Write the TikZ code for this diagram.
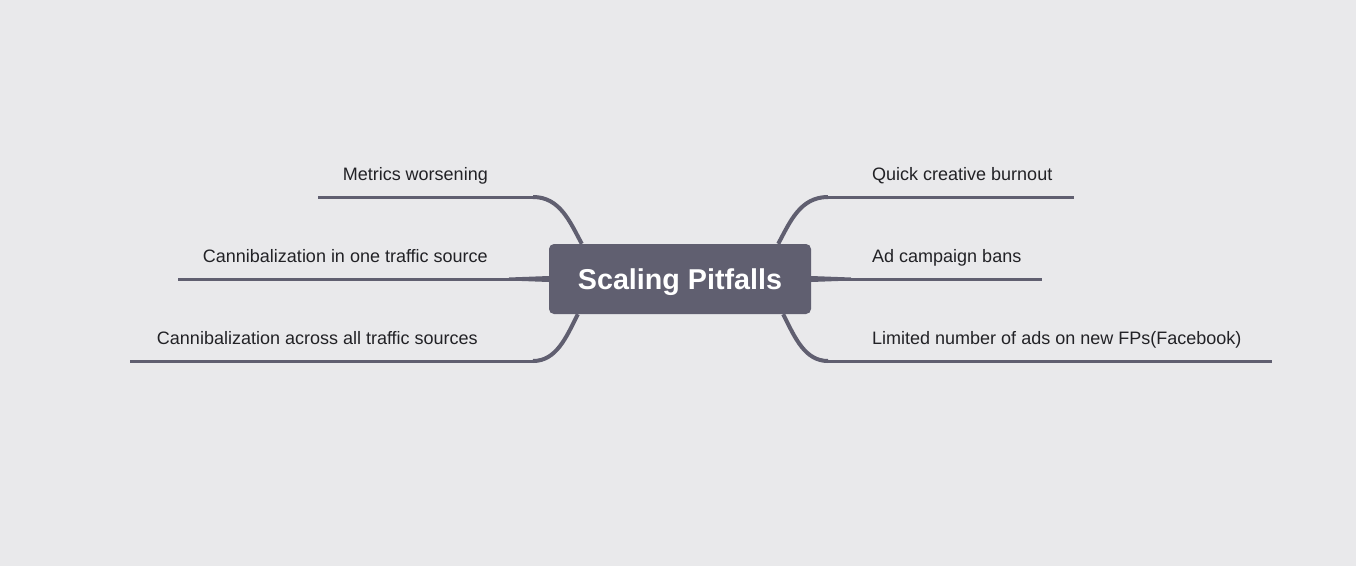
\documentclass[tikz,border=0pt]{standalone}
\usepackage{fontspec}
\setmainfont{Liberation Sans}
\usepackage{xcolor}
\definecolor{bgc}{RGB}{233,233,235}
\definecolor{boxc}{RGB}{96,95,112}
\definecolor{txtc}{RGB}{34,34,38}

\begin{document}
\begin{tikzpicture}[x=1pt,y=-1pt,
  root/.style={fill=boxc, rounded corners=5pt, minimum width=262pt, minimum height=70pt, inner sep=0pt, text height=21pt, text depth=0pt, text=white, font=\fontsize{28.7}{34}\selectfont\bfseries},
  leaf/.style={inner sep=0pt, text=txtc, font=\fontsize{18}{22}\selectfont},
  branch/.style={draw=boxc, line width=3pt},
  curvebranch/.style={draw=boxc, line width=4pt}]
\fill[bgc] (0,0) rectangle (1356,566);
\useasboundingbox (0,0) rectangle (1356,566);

\node[root] (root) at (680,279) {Scaling Pitfalls};

\node[leaf, anchor=base east] (l1) at (488,180) {Metrics worsening};
\node[leaf, anchor=base east] (l2) at (488,262) {Cannibalization in one traffic source};
\node[leaf, anchor=base east] (l3) at (478,344) {Cannibalization across all traffic sources};
\node[leaf, anchor=base west] (r1) at (872,180) {Quick creative burnout};
\node[leaf, anchor=base west] (r2) at (872,262) {Ad campaign bans};
\node[leaf, anchor=base west] (r3) at (872,344) {Limited number of ads on new FPs(Facebook)};

\coordinate (l1a) at (533,197); \coordinate (l1e) at (318,197);
\coordinate (l2e) at (178,279);
\coordinate (l3a) at (533,361); \coordinate (l3e) at (130,361);
\coordinate (r1a) at (828,197); \coordinate (r1e) at (1074,197);
\coordinate (r2e) at (1042,279);
\coordinate (r3a) at (828,361); \coordinate (r3e) at (1272,361);

\draw[curvebranch] ([xshift=33]root.north west) .. controls (570,222) and (560,197) .. (l1a);
\draw[branch] (l1a) -- (l1e);
\draw[curvebranch] ([xshift=29]root.south west) .. controls (566,338) and (556,361) .. (l3a);
\draw[branch] (l3a) -- (l3e);
\draw[curvebranch] ([xshift=-33]root.north east) .. controls (790,222) and (800,197) .. (r1a);
\draw[branch] (r1a) -- (r1e);
\draw[curvebranch] ([xshift=-28]root.south east) .. controls (795,338) and (805,361) .. (r3a);
\draw[branch] (r3a) -- (r3e);

\fill[boxc] ([yshift=-3]root.west) -- ([yshift=3]root.west) -- ([xshift=-40,yshift=1.5]root.west) -- ([xshift=-40,yshift=-1.5]root.west) -- cycle;
\draw[branch] (root.west) -- (l2e);
\fill[boxc] ([yshift=-3]root.east) -- ([yshift=3]root.east) -- ([xshift=40,yshift=1.5]root.east) -- ([xshift=40,yshift=-1.5]root.east) -- cycle;
\draw[branch] (root.east) -- (r2e);
\end{tikzpicture}
\end{document}
